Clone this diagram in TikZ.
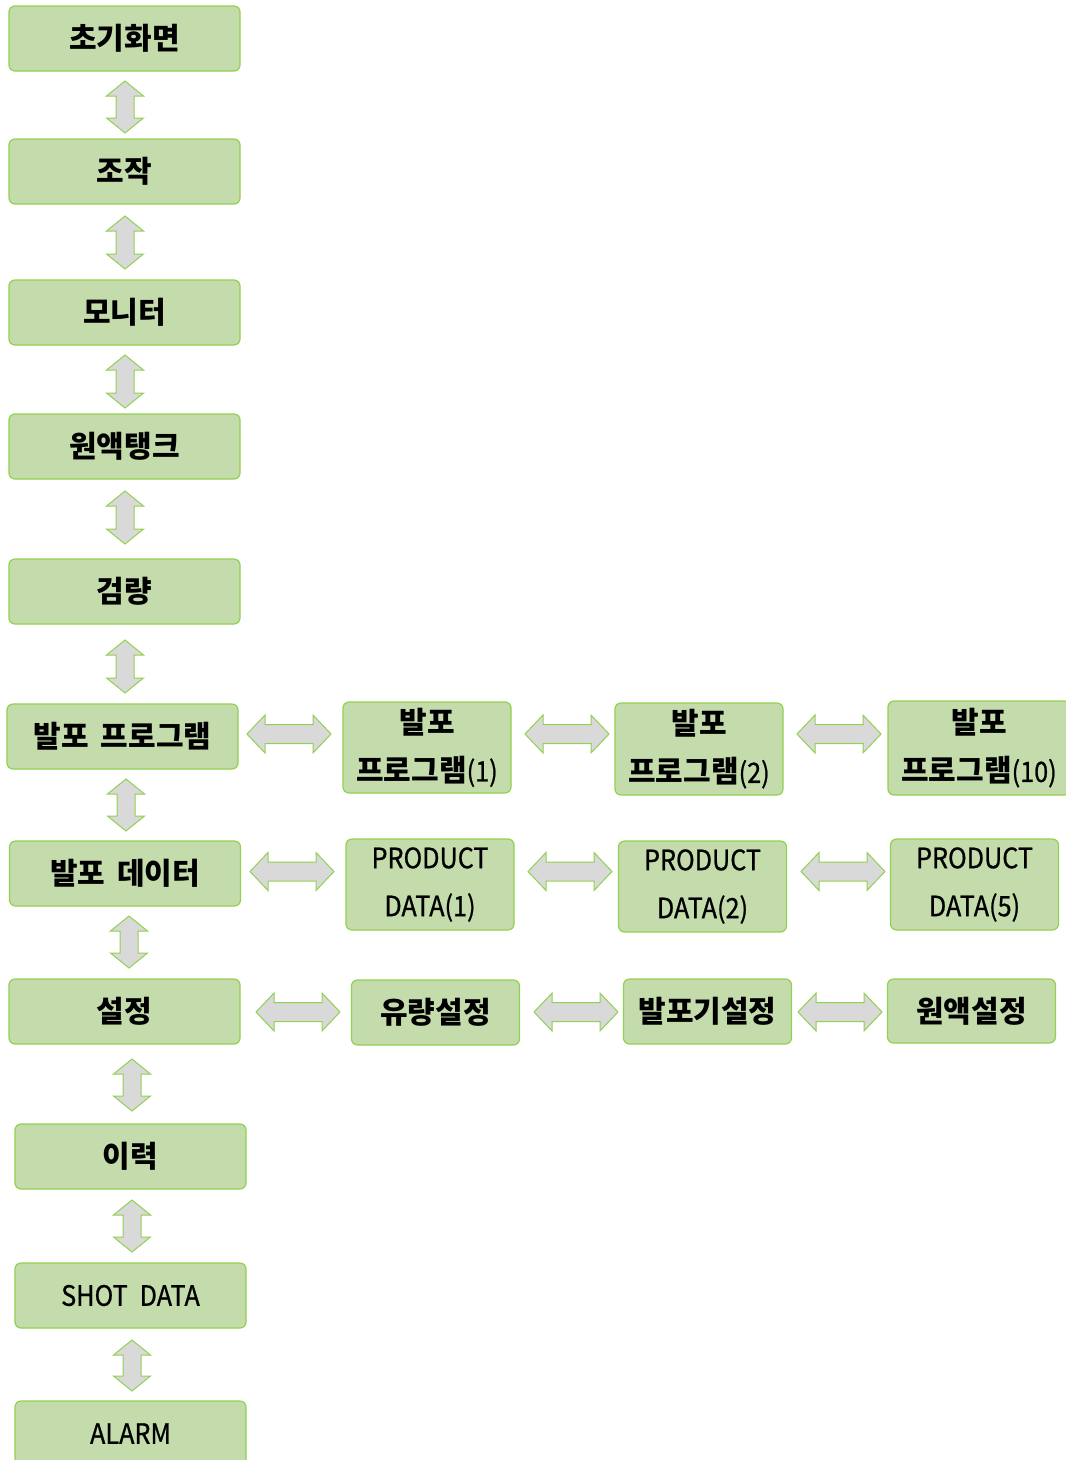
\documentclass[tikz,border=0pt]{standalone}
\usepackage{fontspec}
\setmainfont{Noto Sans CJK KR}
\newfontfamily\lat{Noto Sans CJK KR}[FakeStretch=0.9,FakeBold=0.8]
\usetikzlibrary{calc}
\definecolor{boxfill}{HTML}{C4DCAB}
\definecolor{boxline}{HTML}{92D050}
\definecolor{arrfill}{HTML}{D9D9D9}
\tikzset{
  box/.style={draw=boxline, line width=1.2pt, fill=boxfill, rounded corners=6pt,
    inner sep=0pt, align=center, font=\fontsize{30}{48}\selectfont\bfseries},
  latbox/.style={font=\fontsize{28}{48}\selectfont\lat},
  lbox/.style={box, minimum width=231pt, minimum height=65pt},
  rbox/.style={box, minimum width=168pt, minimum height=91pt},
  sbox/.style={box, minimum width=168pt, minimum height=65pt},
  blockarrow/.style={draw=boxline, line width=1pt, fill=arrfill, line join=miter}
}
\newcommand\lt[1]{{\fontsize{28}{48}\selectfont\lat\mdseries #1}}
\newcommand\vblock[3]{% x, ytop, ybottom
  \draw[blockarrow] ({#1},{#2}) -- ({#1+18.5},{#2+15}) -- ({#1+9},{#2+15}) -- ({#1+9},{#3-15})
    -- ({#1+18.5},{#3-15}) -- ({#1},{#3}) -- ({#1-18.5},{#3-15}) -- ({#1-9},{#3-15})
    -- ({#1-9},{#2+15}) -- ({#1-18.5},{#2+15}) -- cycle;}
\newcommand\hblock[3]{% y, xleft, xright
  \draw[blockarrow] ({#2},{#1}) -- ({#2+18},{#1-19}) -- ({#2+18},{#1-9.5}) -- ({#3-18},{#1-9.5})
    -- ({#3-18},{#1-19}) -- ({#3},{#1}) -- ({#3-18},{#1+19}) -- ({#3-18},{#1+9.5})
    -- ({#2+18},{#1+9.5}) -- ({#2+18},{#1+19}) -- cycle;}
\begin{document}
\begin{tikzpicture}[x=1pt,y=-1pt]
\useasboundingbox (0,0) rectangle (1066,1460);
% left column
\node[lbox] (init) at (124.5,38.5) {초기화면};
\node[lbox] (op)   at (124.5,171.5) {조작};
\node[lbox] (mon)  at (124.5,312.5) {모니터};
\node[lbox] (tank) at (124.5,446.5) {원액탱크};
\node[lbox] (cal)  at (124.5,591.5) {검량};
\node[lbox] (prog) at (122.5,736.5) {발포\hspace{12pt}프로그램};
\node[lbox] (data) at (125,873.5) {발포\hspace{12pt}데이터};
\node[lbox] (set)  at (124.5,1011.5) {설정};
\node[lbox] (hist) at (130.5,1156.5) {이력};
\node[lbox, latbox] (shot) at (130.5,1295.5) {SHOT\hspace{12pt}DATA};
\node[lbox, latbox] (alarm) at (130.5,1433.5) {ALARM};
% program row
\node[rbox] (p1) at (427,747.5) {발포\\프로그램\lt{(1)}};
\node[rbox, minimum height=92pt] (p2) at (699,749) {발포\\프로그램\lt{(2)}};
\node[rbox, minimum width=182pt, minimum height=94pt] (p10) at (979,748) {발포\\프로그램\lt{(10)}};
% data row
\node[rbox, latbox] (d1) at (430,884.5) {PRODUCT\\DATA(1)};
\node[rbox, latbox] (d2) at (702.5,886.5) {PRODUCT\\DATA(2)};
\node[rbox, latbox] (d5) at (974.5,884.5) {PRODUCT\\DATA(5)};
% setting row
\node[sbox] (flow) at (435.5,1012.5) {유량설정};
\node[sbox] (foam) at (707.5,1011.5) {발포기설정};
\node[sbox, minimum height=64pt] (raw) at (971.5,1011) {원액설정};
% vertical block arrows
\vblock{125}{81}{133}
\vblock{125}{216}{269}
\vblock{125}{355}{408}
\vblock{125}{491}{544}
\vblock{125}{640}{693}
\vblock{126}{779}{831}
\vblock{129}{916}{968}
\vblock{132}{1059}{1111}
\vblock{132}{1200}{1252}
\vblock{132}{1340}{1391}
% horizontal block arrows
\hblock{734}{247}{331}
\hblock{734}{525}{609}
\hblock{734}{797}{881}
\hblock{871.5}{250}{334}
\hblock{871.5}{528}{612}
\hblock{871.5}{801}{885}
\hblock{1012}{256}{340}
\hblock{1012}{534}{618}
\hblock{1012}{798}{882}
\end{tikzpicture}
\end{document}
